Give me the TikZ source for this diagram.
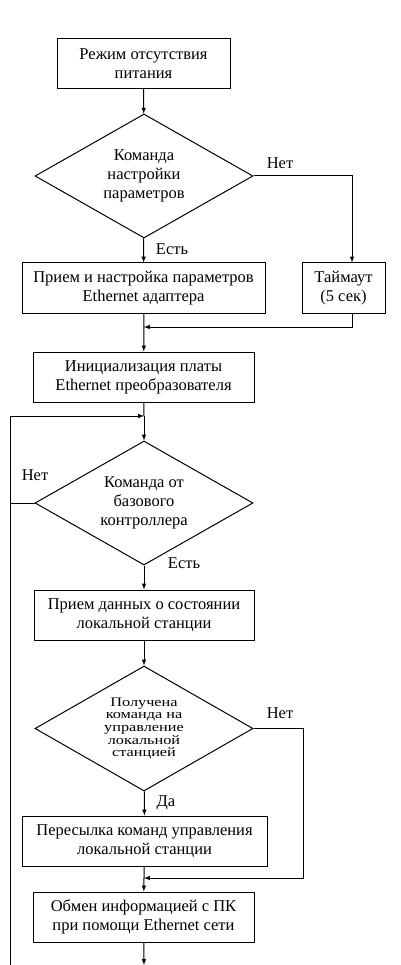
\documentclass[tikz,border=0pt]{standalone}
\usepackage{fontspec}
\setmainfont{Liberation Serif}
\newfontfamily\widefont[FakeStretch=1.25]{Liberation Serif}
\usetikzlibrary{shapes.geometric}
\tikzset{
  blk/.style={draw,line width=1pt,minimum height=50pt,align=center,inner sep=0pt,font=\fontsize{16.5}{19}\selectfont},
  dec/.style={draw,line width=1pt,shape=diamond,aspect=1.76,minimum width=218pt,minimum height=124pt,align=center,inner sep=0pt,font=\fontsize{16.5}{19}\selectfont},
  lbl/.style={font=\fontsize{16.5}{19}\selectfont},
  ln/.style={line width=1pt,>=latex}
}
\begin{document}
\begin{tikzpicture}[x=1pt,y=-1pt]
\useasboundingbox (0,0) rectangle (400,965);
\node[blk,minimum width=173pt] (1) at (143.5,63.5) {Режим отсутствия\\питания};
\node[dec] (2) at (144,176) {Команда\\настройки\\параметров};
\node[blk,minimum width=243pt] (3) at (143.5,288) {Прием и настройка параметров\\Ethernet адаптера};
\node[blk,minimum width=83pt] (4) at (343.5,288) {Таймаут\\(5 сек)};
\node[blk,minimum width=221pt] (5) at (143.5,377) {Инициализация платы\\Ethernet преобразователя};
\node[dec] (6) at (144,503) {Команда от\\базового\\контроллера};
\node[blk,minimum width=220pt] (7) at (144,615) {Прием данных о состоянии\\локальной станции};
\node[dec,minimum height=125pt,font=\widefont\fontsize{13}{12.6}\selectfont] (8) at (144,728.5) {Получена\\команда на\\управление\\локальной\\станцией};
\node[blk,minimum width=245pt] (9) at (144.5,841) {Пересылка команд управления\\локальной станции};
\node[blk,minimum width=221pt] (10) at (143.5,917) {Обмен информацией с ПК\\при помощи Ethernet сети};

\coordinate (a) at (144,327);
\coordinate (b) at (144,416);
\coordinate (c) at (144,878);
\coordinate (d) at (10,965);
\coordinate (e) at (144,965);

\node[lbl] (n1) at (280,163) {Нет};
\node[lbl] (y1) at (172,249) {Есть};
\node[lbl] (n2) at (35,475) {Нет};
\node[lbl] (y2) at (184,563) {Есть};
\node[lbl] (n3) at (280,713) {Нет};
\node[lbl] (y3) at (166,803) {Да};

\draw[ln,->] (1) -- (2);
\draw[ln,->] (2) -- (3);
\draw[ln,->] (2.east) -| ([xshift=8.5pt]4.north);
\draw[ln] (3) -- (a);
\draw[ln,->] ([xshift=8.5pt]4.south) |- (a);
\draw[ln,->] (a) -- (5);
\draw[ln] (5) -- (b);
\draw[ln,->] (b) -- (6);
\draw[ln] (6.west) -- (6.west -| d);
\draw[ln,->] (d) |- (b);
\draw[ln,->] (6) -- (7);
\draw[ln,->] (7) -- (8);
\draw[ln,->] (8) -- (9);
\draw[ln] (9) -- (c);
\draw[ln,->] (8.east) -| (303,878) -- (c);
\draw[ln,->] (c) -- (10);
\draw[ln,->] (10) -- (e);
\end{tikzpicture}
\end{document}
